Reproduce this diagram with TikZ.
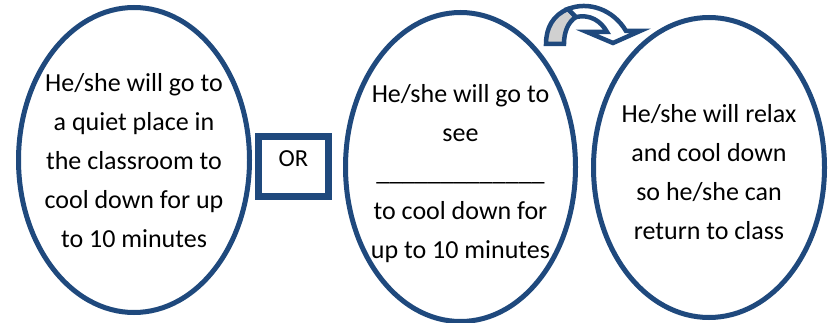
\documentclass[tikz,border=0pt]{standalone}
\usepackage{fontspec}
\setmainfont{Carlito}
\usetikzlibrary{shapes.geometric}
\definecolor{dblue}{HTML}{1F497D}
\definecolor{agrey}{HTML}{D0D0D0}
\begin{document}
\begin{tikzpicture}[x=1pt,y=-1pt,
  oval/.style={draw=dblue, line width=5pt, ellipse, fill=white, inner sep=0pt},
  txt/.style={align=center, font=\fontsize{26}{39}\selectfont, inner sep=0pt},
  orbox/.style={draw=dblue, line width=7pt, fill=white, minimum width=70pt, minimum height=60pt, inner sep=0pt},
  arrowpart/.style={draw=dblue, line width=4.5pt, line join=miter}]
\useasboundingbox (0,0) rectangle (832,323);
\node[oval, minimum width=231pt, minimum height=305pt] (e1) at (134,160) {};
\node[oval, minimum width=230pt, minimum height=309pt] (e2) at (460.5,167) {};
\node[oval, minimum width=231pt, minimum height=300pt] (e3) at (709,167.5) {};
\node[txt] (t1) at (134,161) {He/she will go to\\a quiet place in\\the classroom to\\cool down for up\\to 10 minutes};
\node[txt] (t2) at (460.5,173.5) {He/she will go to\\see\\\_\_\_\_\_\_\_\_\_\_\_\_\_\\to cool down for\\up to 10 minutes};
\node[txt] (t3) at (709,172) {He/she will relax\\and cool down\\so he/she can\\return to class};
\node[orbox] (orb) at (293.5,166.5) {};
\node[font=\fontsize{24.5}{30}\selectfont, inner sep=0pt] (ort) at (293.5,159) {OR};
% curved arrow
\draw[arrowpart, fill=agrey] (546,44) .. controls (546,28) and (553,15) .. (568,9) -- (576,17) .. controls (568,22) and (564,32) .. (564,44) -- cycle;
\draw[arrowpart, fill=white] (568,9) .. controls (588,1) and (613,9) .. (626,31) -- (640,31) -- (613,43) -- (587,32) -- (607,32) .. controls (601,21) and (590,14) .. (576,17) -- cycle;
\end{tikzpicture}
\end{document}
